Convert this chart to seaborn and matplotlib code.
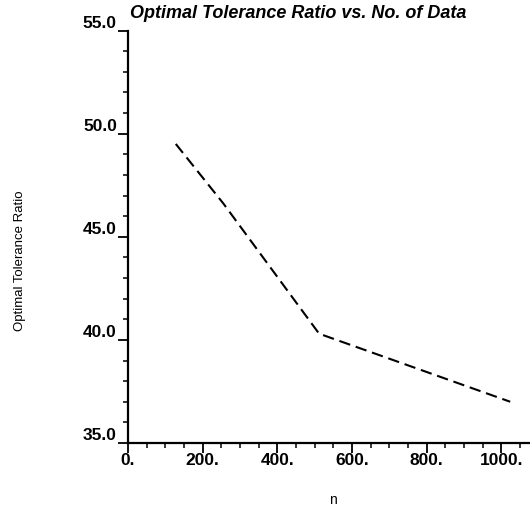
import matplotlib
matplotlib.use("Agg")
import matplotlib.pyplot as plt
from matplotlib.ticker import MultipleLocator, FormatStrFormatter, FuncFormatter
import seaborn as sns
import pandas as pd

# Optimal tolerance ratio as a function of the number of data points
n_values = [128, 256, 512, 1024]
ratio_values = [49.5, 46.6, 40.3, 37.0]

title_text = "Optimal Tolerance Ratio vs. No. of Data"
x_label = "n"
y_label = "Optimal Tolerance Ratio"

sns.set_style("white")
plt.rcParams["font.family"] = ["Liberation Sans", "DejaVu Sans"]
plt.rcParams["text.color"] = "black"
plt.rcParams["xtick.color"] = "black"
plt.rcParams["ytick.color"] = "black"

W, H = 530, 507
fig = plt.figure(figsize=(W / 100, H / 100), dpi=100)
left_px, right_px, top_px, bottom_px = 128, 530, 30.5, 443
ax = fig.add_axes([left_px / W, 1 - bottom_px / H,
                   (right_px - left_px) / W, (bottom_px - top_px) / H])

df = pd.DataFrame({"n": n_values, "ratio": ratio_values})
sns.lineplot(data=df, x="n", y="ratio", ax=ax, color="black",
             linewidth=1.5, linestyle="--")
for ln in ax.get_lines():
    ln.set_dashes((5.5, 2.8))

ax.set_xlim(0, 1077)
ax.set_ylim(35, 55)

ax.xaxis.set_major_locator(MultipleLocator(200))
ax.xaxis.set_minor_locator(MultipleLocator(50))
ax.yaxis.set_major_locator(MultipleLocator(5))
ax.yaxis.set_minor_locator(MultipleLocator(1))
ax.xaxis.set_major_formatter(FuncFormatter(lambda v, p: f"{int(round(v))}."))
ax.yaxis.set_major_formatter(FormatStrFormatter("%.1f"))

for side in ("top", "right"):
    ax.spines[side].set_visible(False)
for side in ("left", "bottom"):
    ax.spines[side].set_linewidth(1.6)
    ax.spines[side].set_color("black")

ax.tick_params(axis="both", which="major", direction="out", length=7,
               width=1.3, color="black", labelcolor="black", labelsize=12.5)
ax.tick_params(axis="both", which="minor", direction="out", length=3.5,
               width=1.1, color="black")
ax.tick_params(axis="x", which="major", pad=0)
ax.tick_params(axis="y", which="major", pad=1)
ax.tick_params(left=True, bottom=True, which="both")

for lbl in ax.get_xticklabels() + ax.get_yticklabels():
    lbl.set_fontweight("bold")
for lbl in ax.get_yticklabels():
    lbl.set_verticalalignment("bottom")

ax.set_xlabel("")
ax.set_ylabel("")
fig.text(333 / W, 1 - 500 / H, x_label, ha="center", va="center",
         fontsize=10, color="black")
fig.text(20 / W, 1 - 261 / H, y_label, ha="center", va="center",
         rotation=90, fontsize=9.5, color="black")
fig.text(130 / W, 1 - 13 / H, title_text, ha="left", va="center",
         fontsize=13, fontweight="bold", fontstyle="italic", color="black")

fig.savefig("out.png", dpi=100, facecolor="white")
